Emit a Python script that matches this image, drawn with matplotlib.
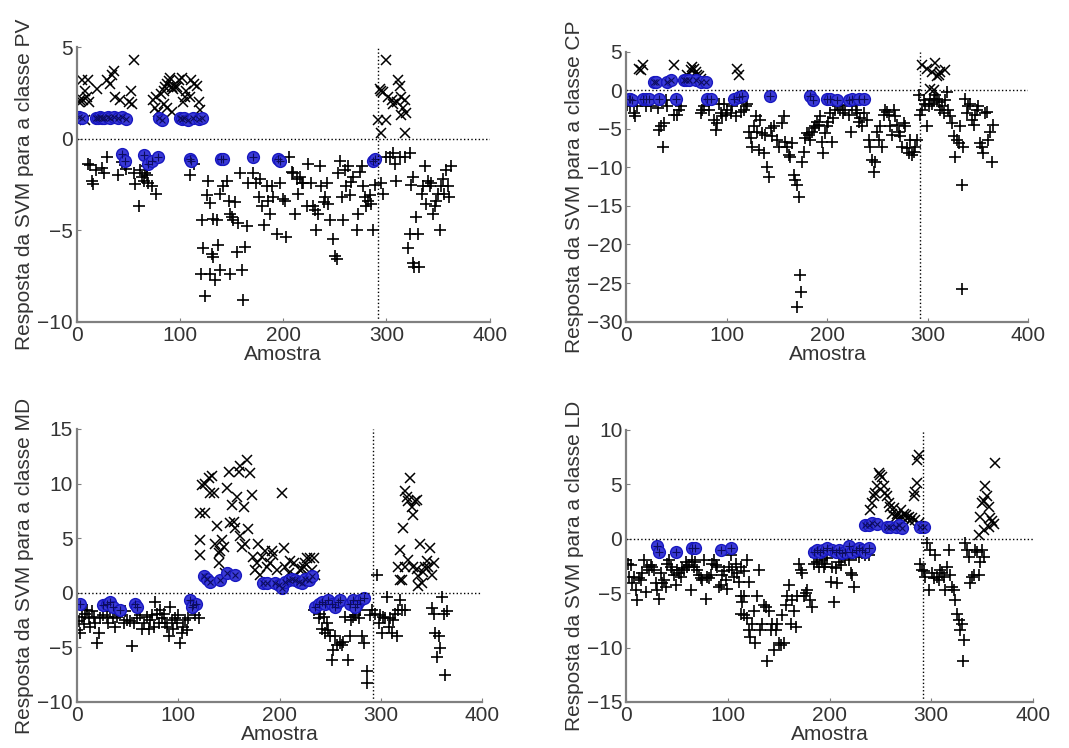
import numpy as np
import matplotlib
matplotlib.use("Agg")
import matplotlib.pyplot as plt

plt.rcParams['font.family'] = ['Liberation Sans', 'DejaVu Sans']

# ---- classe PV ----
pv_cross = [(3,2.1),(6,2.1),(8,2.6),(10,2.3),(11,3.2),(5,3.2),(19,2.7),(29,3.2),(32,3.0),(34,3.5),
            (35.5,3.7),(37,2.3),(42,2.1),(50,2.0),(52,2.6),(55,4.3),(53,1.9),(2,2.0),(12,2.0),(8,1.0),
            (74,2.1),(77,2.3),(81,2.45),(84,2.6),(85.5,2.8),(87,3.0),(89,3.15),(90,3.3),(92,2.8),(93.5,2.7),
            (95,2.8),(97,2.8),(99,3.2),(101.6,3.3),(102.6,2.0),(105,2.3),(106,2.6),(110,2.3),(111,3.2),(113,3.0),
            (116,2.85),(118,2.0),(119,1.55),(76,1.7),(79,1.45),(84,1.9),(87,1.7),(92,1.45),
            (293.5,2.7),(295,2.6),(297,2.55),(300,4.3),(301.6,2.3),(305,2.1),(306,1.9),(310,2.0),(311,3.2),(313,2.9),
            (314.5,2.3),(316,1.7),(318,2.1),(319,1.4),(292,1.0),(295,0.3),(300,1.0),(318,0.3),(314.5,1.3)]
pv_plus = [(11,-1.4),(13,-1.45),(14.5,-2.3),(16,-2.5),(18,-1.7),(24,-1.6),(26,-1.9),(29,-1.0),(40,-2.0),(43.5,-1.3),
           (47,-1.45),(48,-1.65),(55,-1.9),(56.5,-2.5),(60,-3.7),(61,-1.7),(63,-2.1),(64.5,-2.3),(66,-1.9),(68,-2.0),
           (69,-2.45),(72.6,-2.6),(77,-3.0),(68,-1.5),(110,-2.0),(113,-1.4),(121,-4.45),(122.6,-6.0),(124,-8.6),(126,-3.1),
           (127,-2.3),(129,-3.5),(130.6,-6.3),(132,-6.45),(134,-7.7),(135.5,-4.45),(137,-5.8),(138.7,-3.0),(142,-2.6),(145,-2.3),
           (147,-3.4),(148,-4.1),(150,-4.3),(151.6,-4.45),(153,-3.45),(155,-6.2),(156,-4.6),(158,-1.9),(160,-7.2),(161,-8.8),
           (163,-5.9),(164.5,-4.8),(166,-2.45),(148,-7.4),(139,-7.2),(129,-7.4),(120,-7.4),(132,-4.4),
           (171,-1.9),(174,-2.45),(176,-3.2),(177,-2.2),(179,-3.7),(181,-4.7),(184,-2.6),(185.5,-3.4),(187,-4.1),(189,-2.6),
           (190,-3.2),(193.5,-5.2),(197,-2.45),(200,-3.3),(201.6,-3.4),(203,-5.4),(206,-1.0),(208,-1.8),(209.7,-1.9),(211,-4.1),
           (213,-2.2),(214.5,-3.0),(216,-2.1),(218,-2.4),(219,-2.45),(222.6,-3.7),(224,-1.4),(227,-2.4),(229,-3.7),(230.6,-3.9),
           (232,-5.0),(234,-4.1),(235.5,-1.5),(237,-2.6),(239,-3.45),(240,-3.2),(242,-2.45),(243.5,-3.55),(245,-4.45),(248,-5.5),
           (250,-6.4),(251.6,-6.6),(253,-1.9),(255,-1.2),(256.5,-3.2),(258,-4.45),(259.7,-1.7),(261,-2.6),(263,-1.5),(264.5,-3.1),
           (266,-2.35),(267.7,-2.1),(271,-5.0),(272.6,-4.1),(274,-1.8),(276,-1.5),(277,-2.6),(279,-3.2),(280.6,-3.7),(282,-3.4),
           (284,-3.1),(285.5,-3.55),(287,-5.0),(289,-2.55),
           (295,-2.4),(297,-3.0),(300,-1.0),(303,-1.0),(306,-0.8),(308,-1.4),(309.7,-2.3),(313,-1.0),(318,-1.0),(322.6,-0.8),
           (324,-2.55),(325.8,-2.1),(321,-6.0),(322.6,-5.2),(325.8,-6.8),(327,-7.0),(329,-4.3),(330.6,-5.2),(332,-7.0),(334,-3.0),
           (335.5,-2.6),(337,-1.5),(338.7,-3.55),(340,-2.3),(342,-2.6),(343.5,-2.45),(345,-4.1),(346.8,-3.7),(348,-3.4),(350,-3.0),
           (351.6,-5.0),(353,-2.6),(354.8,-2.2),(356,-3.0),(357.7,-1.7),(359.7,-2.6),(361,-3.2),(363,-1.5)]
pv_sv = [(2,1.2),(5,1.1),(18,1.15),(20,1.1),(22,1.2),(24,1.1),(26,1.15),(30,1.2),(32,1.1),(36,1.2),
         (40,1.15),(44,1.2),(48,1.05),(80,1.1),(82,1.0),(100,1.15),(102,1.05),(104,1.1),(108,1.0),(112,1.1),
         (118,1.05),(121,1.1),
         (43.5,-0.85),(47,-1.2),(64.5,-0.9),(69,-1.36),(72.6,-1.2),(79,-1.0),(110,-1.1),(111,-1.2),(140,-1.1),(142,-1.1),
         (171,-1.0),(195,-1.1),(197,-1.2),(287,-1.2),(289,-1.1)]

# ---- classe CP ----
cp_cross = [(12.6,2.8),(14,2.6),(16,3.3),(47,3.3),(60.6,2.0),(64,2.6),(65.6,3.0),(67,2.8),(69,2.4),(70.5,2.0),
            (72,1.8),(74,1.5),(110,2.8),(112,2.0),(294,3.3),(299,2.8),(304,2.4),(307,3.5),(309,1.8),(310.6,2.0),
            (312,2.4),(317,2.6),(302,0.2),(305.6,0.0)]
cp_plus = [(1,-1.9),(4,-2.1),(7.6,-3.0),(9,-3.4),(11,-2.1),(19,-2.1),(24,-2.1),(31,-2.3),(32.5,-5.1),(34,-4.7),
           (36,-7.3),(37.4,-4.3),(39,-1.3),(40.7,-2.1),(47,-3.2),(50.6,-3.2),(52,-2.6),(54,-2.1),(74,-3.0),(75.5,-2.6),
           (77,-2.1),(82,-2.6),(87,-3.9),(89,-5.1),(90,-4.3),(92,-1.8),(94,-3.0),(95,-3.4),(97,-1.8),(98.7,-3.2),
           (100,-2.6),(103.6,-3.0),(105,-2.1),(108.6,-3.4),(113.6,-2.8),(117,-2.6),(118.5,-2.1),(120,-1.8),(122,-5.4),(123.5,-6.2),
           (125,-7.3),(126.8,-4.7),(128.5,-3.4),(130,-5.4),(131.8,-7.7),(133.4,-3.9),(135,-5.6),(136.8,-8.2),(138,-5.8),(140,-9.9),
           (141.7,-11.2),(143.4,-4.9),(145,-6.0),(146.7,-4.7),(150,-6.5),(151.7,-7.3),(155,-4.3),(156.6,-3.4),(158,-6.7),(160,-7.3),
           (161.6,-8.4),(163,-8.6),(165,-6.9),(166.6,-11.0),(168,-11.6),(170,-12.3),(171.5,-13.8),(173,-23.9),(174,-26.1),(170,-28.1),
           (175,-9.3),(176.5,-8.0),(178,-6.2),(180,-5.6),(181.5,-5.8),(183,-6.5),(185,-5.4),(186.5,-4.9),(188,-4.7),(190,-4.1),
           (191.4,-4.5),(193,-3.4),(194.7,-6.7),(196,-8.2),(198,-5.6),(200,-4.7),(201,-4.1),(203,-3.0),(204.6,-6.7),(206,-3.6),
           (208,-2.6),(209.6,-1.8),(211,-2.1),(213,-2.6),(214.5,-1.9),(216,-3.0),(218,-2.6),(221,-3.2),(223,-5.4),(224.5,-2.1),
           (228,-2.6),(229.5,-3.0),(231,-4.1),(232.8,-3.6),(234,-4.7),(236,-3.0),(239,-3.9),(241,-6.5),(242.7,-7.3),(244,-9.0),
           (246,-10.6),(247.7,-9.3),(249,-5.4),(251,-6.5),(252.6,-4.7),(254,-7.3),(256,-3.2),(257.6,-2.6),(259,-2.8),(261,-3.2),
           (262.6,-4.7),(264,-5.8),(266,-2.6),(267.5,-3.4),(269,-4.5),(271,-5.4),(272.5,-6.0),(274,-7.3),(276,-4.3),(277.5,-4.7),
           (279,-7.5),(281,-8.2),(282.5,-6.5),(284,-8.4),(285.8,-8.0),(287.4,-7.3),(289,-6.5),
           (290.7,-0.6),(292.4,-3.2),(294,-2.6),(295.7,-1.3),(297.3,-1.8),(299,-4.7),(300.7,-2.1),(302,-1.1),(304,-1.8),(305.6,-1.3),
           (307,-0.6),(309,-1.1),(310.6,-1.5),(312,-2.6),(314,-2.1),(315.6,-3.0),(317,-1.3),(319,-0.2),(320.5,-2.6),(322,-3.4),
           (324,-4.3),(325.5,-6.0),(327,-8.6),(328.8,-6.5),(330.5,-6.9),(332,-4.7),(333.8,-12.3),(334.4,-25.8),(335.4,-7.3),(337,-1.1),
           (338.7,-3.0),(340.4,-2.1),(342,-1.8),(343.7,-3.9),(345.4,-4.5),(347,-3.2),(348.7,-2.6),(350,-2.1),(352,-6.9),(353.6,-7.3),
           (355,-8.2),(357,-3.0),(358.6,-2.8),(360,-6.5),(362,-5.4),(363.6,-9.3),(365,-4.5)]
cp_sv = [(27.5,1.1),(29,1.1),(40.7,1.1),(44,1.3),(57,1.3),(59,1.3),(62,1.3),(69,1.3),(74,1.1),(79,1.1),
         (2.6,-1.1),(4,-1.1),(6,-1.3),(16,-1.2),(19,-1.1),(22.5,-1.1),(32.5,-1.1),(49,-1.2),(80.5,-1.1),(84,-1.1),
         (107,-1.2),(112,-0.9),(115,-0.7),(143,-0.7),(183,-0.7),(186,-1.3),(200,-1.1),(203,-1.1),(210,-1.3),(221,-1.3),
         (224,-1.1),(231,-1.1),(236,-1.1)]

# ---- classe MD ----
md_cross = [(121.7,7.3),(126.6,7.3),(121.7,4.85),(121.7,3.5),(123,9.9),(126.6,10.0),(130,10.5),(133,10.7),(131.6,9.1),(134.9,9.1),
            (136.5,4.5),(138,6.1),(139.8,3.6),(139.8,2.7),(141,3.8),(142.8,4.8),(144.7,4.2),(146,1.8),(148,9.6),(149.7,11.1),
            (151,6.4),(153,8.0),(154.6,6.5),(156,5.9),(157.9,8.8),(159.5,11.1),(161,11.6),(161,5.2),(162.8,4.2),(164.5,7.9),
            (166,4.5),(167.8,12.2),(169,5.8),(171,11.0),(172.7,9.0),(174,3.3),(176,2.1),(177.6,2.7),(179,4.5),(181,1.6),
            (183,3.3),(185.9,3.8),(187.5,2.4),(190.8,2.7),(192.4,3.8),(194,3.5),(197,2.1),(202,9.1),(204,4.1),(205.6,2.4),
            (209,1.8),(210.5,2.9),(214,2.7),(215.5,1.5),(220,2.1),(222,2.2),(223.7,2.4),(225,2.7),(227,3.2),(228.6,1.5),
            (230,3.2),(232,2.1),(233.6,3.2),(235,1.6),
            (319,1.2),(320.7,1.2),(322,5.9),(324,9.3),(325.6,8.8),(327.3,8.4),(329,10.5),(330.6,7.9),(332,7.1),(334,8.4),
            (335.5,8.5),(317.4,2.4),(319,3.9),(324,2.4),(327.3,3.0),(332,2.4),(335.5,2.2),(337,1.5),(338.8,4.5),(340.5,0.9),
            (342,1.9),(343.8,2.4),(345.4,2.9),(347,2.4),(348.7,4.1),(350.3,1.6),(352,2.7),(337,0.6)]
md_plus = [(0,-3.4),(1.6,-2.6),(3.3,-3.7),(5,-2.2),(6.6,-2.9),(8,-1.9),(9.9,-1.6),(11.5,-2.3),(13,-3.1),(14.8,-1.7),
           (16.4,-2.2),(18,-2.8),(19.7,-4.6),(21.4,-3.7),(23,-2.3),(26,-2.0),(29.6,-2.2),(31,-2.8),(33,-1.7),(36,-2.3),
           (37.8,-3.1),(39.5,-2.2),(42.8,-2.0),(46,-2.8),(47.7,-1.7),(49,-2.5),(52.6,-2.6),(54,-4.9),(56,-2.8),(59,-2.3),
           (62.5,-2.0),(64,-3.3),(65.8,-2.8),(69,-2.2),(70.7,-3.3),(72,-2.5),(74,-2.0),(75.7,-3.1),(77,-0.8),(79,-1.9),
           (80.6,-2.8),(82,-1.6),(83.9,-2.3),(85.5,-1.9),(87,-2.8),(88.8,-3.1),(90.5,-4.0),(92,-1.3),(93.7,-2.5),(95,-3.3),
           (97,-2.3),(98.7,-2.8),(100,-2.0),(102,-4.6),(103.6,-3.7),(105,-3.1),(107,-2.5),(108.5,-3.4),(110,-2.3),(116.8,-2.0),
           (120,-2.3),
           (233.6,-1.6),(238.5,-2.3),(240,-1.9),(241.8,-3.3),(243.4,-2.2),(245,-3.7),(246.7,-2.8),(248,-3.4),(250,-4.0),(251.6,-6.2),
           (253,-5.2),(255,-4.0),(256.6,-4.8),(260,-4.6),(261.5,-4.8),(263,-4.5),(264.8,-2.2),(268,-6.2),(269.7,-4.0),(271,-2.5),
           (273,-2.2),(274.7,-2.0),(278,-2.3),(279.6,-1.6),(281,-4.0),(283,-4.6),(286,-7.2),(286.8,-8.3),(289.5,-2.0),(291,-1.6),
           (294,-1.9),(296,1.6),(297.7,-2.8),(299,-2.0),(300.9,-3.7),(302.6,-2.2),(304,-2.3),(306,-0.4),(307.6,-3.1),(309,-2.3),
           (310.8,-3.7),(312.5,-2.5),(314,-1.9),(315.8,-4.0),(317.4,-1.6),(319,-0.7),(320.7,-1.6),(324,-1.6),
           (350.3,-1.4),(352,-1.9),(353.6,-3.7),(355,-5.9),(357,-4.0),(358.6,-5.1),(360,-0.4),(362,-1.9),(363.5,-7.5),(365,-1.7)]
md_sv = [(3.3,-1.0),(26,-1.1),(29.6,-1.0),(33,-0.8),(36,-1.3),(42.8,-1.6),(57.6,-1.0),(59,-1.3),(112,-0.7),(115,-1.1),
         (118,-1.0),(113.5,-1.3),
         (125,1.5),(128,1.3),(131.6,1.0),(141,1.2),(148,1.8),(156,1.6),(184,0.9),(187.5,0.9),(195.7,0.9),(199,0.7),
         (202,0.4),(205.6,1.0),(209,1.2),(212,1.3),(215.5,1.2),(218.8,1.0),(222,0.9),(225,1.3),(228.6,1.2),(232,1.5),
         (235,-1.3),(238.5,-1.0),(241.8,-0.8),(245,-1.0),(248,-0.7),(251.6,-1.0),(255,-1.3),(258,-0.8),(260,-0.7),(269.7,-1.0),
         (273,-0.7),(276,-1.0),(279.6,-0.7),(283,-0.5),(274.7,-1.3)]

# ---- classe LD ----
ld_cross = [(240,2.6),(242,3.25),(243.6,3.9),(245.2,4.2),(247,4.8),(248.5,6.0),(250,5.85),(251.8,5.7),(253.4,4.8),(255,4.2),
            (256.7,3.9),(258.4,3.25),(260,2.9),(261.6,2.3),(263.3,2.8),(265,2.0),(266.6,2.3),(268,1.9),(270,2.6),(271.5,2.0),
            (273,2.3),(274.8,2.2),(276.4,1.9),(278,2.0),(279.7,1.6),(281.3,1.9),(283,3.9),(284.6,4.3),(286,5.1),(286,7.2),
            (287.9,7.7),(284.6,1.7),(287.9,1.4),
            (346.9,0.3),(348.5,2.0),(350,3.25),(351.8,3.5),(353.4,4.8),(355,3.9),(356.7,2.9),(358.4,1.9),(360,1.6),(361.6,1.3),
            (363,6.9),(356.7,1.1),(351.8,0.8)]
ld_plus = [(0,-2.0),(1.6,-2.3),(2.6,-3.5),(4.3,-2.4),(5.9,-4.1),(7.5,-3.5),(9,-4.7),(10.8,-5.6),(12.5,-3.65),(14,-3.8),
           (15.7,-3.2),(17.4,-2.0),(19,-4.9),(20.7,-2.6),(22.3,-2.9),(24,-2.4),(25.6,-2.6),(27.2,-2.9),(28.9,-4.1),(30.5,-4.7),
           (32,-5.5),(33.8,-3.2),(35.4,-4.1),(37,-3.8),(38.7,-4.4),(40.3,-2.3),(42,-2.0),(43.6,-2.6),(45.2,-2.9),(46.9,-3.35),
           (48.5,-4.3),(50.2,-2.9),(51.8,-3.2),(53.4,-3.5),(55,-2.7),(56.7,-2.9),(58.4,-2.15),(60,-2.6),(61.6,-2.4),(63.3,-4.7),
           (64.9,-2.0),(66.6,-2.6),(68,-2.15),(69.8,-2.9),(71.5,-3.35),(73,-3.65),(74.8,-3.8),(76.4,-2.0),(78,-5.5),(79.7,-3.5),
           (81.3,-3.65),(83,-3.35),(84.6,-2.3),(86.2,-2.0),(87.9,-2.4),(89.5,-2.6),(91,-4.4),(92.8,-4.3),(94.4,-3.35),(96,-3.0),
           (97.7,-3.8),(99.3,-4.6),(101,-2.6),(102.6,-1.5),(104,-2.9),(105.9,-3.5),(107.5,-2.3),(109,-3.2),(110.8,-3.95),(112.5,-2.6),
           (115.7,-3.0),(119,-2.0),(120.6,-3.95),(112.5,-5.3),(114,-5.8),(115.7,-5.3),
           (112.5,-6.9),(115.7,-7.0),(119,-7.3),(120.6,-8.4),(122,-9.0),(124,-7.8),(125.6,-6.6),(127,-9.6),(128.9,-5.3),(130.5,-2.9),
           (132,-8.4),(133.8,-7.8),(135.4,-6.1),(137,-6.3),(138.7,-11.2),(140.3,-6.6),(142,-8.4),(143.6,-7.8),(145.2,-10.2),(146.9,-8.4),
           (148.5,-7.8),(150,-9.6),(151.8,-9.8),(153.4,-7.0),(155,-9.6),(156.7,-6.1),(158.4,-5.3),(160,-4.3),(161.6,-7.8),(163.3,-5.6),
           (165,-6.6),(166.6,-8.1),(168,-5.3),(169.8,-2.3),(171.5,-2.9),(173,-3.2),(174.7,-5.3),(176.4,-5.0),(178,-4.7),(181,-5.6),
           (183,-6.3),(184.6,-2.3),(186.2,-1.7),(187.9,-2.1),(189.5,-2.6),(191,-1.5),(192.8,-2.0),(194.4,-2.6),(196,-2.3),(197.7,-1.8),
           (201,-3.95),(202.6,-2.6),(204.3,-5.8),(206,-2.7),(207.5,-4.1),(209,-2.15),(210.8,-2.4),(212.5,-1.7),(214,-1.35),(215.7,-1.8),
           (219,-2.0),(220.7,-3.2),(222,-3.35),(224,-4.4),(225.6,-1.5),(228.9,-1.7),(232,-1.35),(235.4,-1.5),(238.7,-1.5),
           (289.5,-2.3),(291,-2.9),(292.8,-3.0),(294.4,-3.5),(296,-0.4),(297.7,-4.7),(299,-1.0),(301,-3.2),(302.6,-3.65),(304,-1.5),
           (306,-3.5),(307.5,-3.8),(309,-2.9),(310.8,-3.2),(312.5,-3.5),(314,-4.7),(315.7,-2.6),(317.4,-1.0),(319,-3.35),(320.6,-4.4),
           (322.3,-4.7),(324,-5.6),(325.6,-6.9),(327,-7.5),(328.9,-8.4),(330.5,-7.8),(332,-9.3),(331,-11.2),(333.8,-0.4),(335.4,-1.0),
           (337,-1.7),(338.7,-4.1),(340.3,-3.5),(342,-3.35),(343.6,-1.0),(345.2,-1.2),(346.9,-3.35),(348.5,-2.1),(350,-1.0),(351.8,-1.7)]
ld_sv = [(30.5,-0.7),(32,-1.2),(48.5,-1.2),(65,-0.9),(68,-0.9),(93,-1.0),(102.6,-0.9),(184.6,-1.2),(188,-1.0),(191,-1.2),
         (194,-1.0),(197.7,-0.9),(202.6,-1.0),(206,-1.2),(209,-1.0),(212.5,-1.35),(215.7,-1.2),(219,-0.7),(222,-1.2),(225.6,-1.0),
         (228.9,-0.9),(232,-1.0),(235.4,-1.2),(238.7,-0.9),
         (235.4,1.25),(238.7,1.25),(242,1.4),(247,1.35),(256.7,1.1),(260,1.1),(265,1.1),(268,1.25),(271.5,0.95),(289.5,1.1),
         (292.8,1.1)]

panels = [
    ('PV', pv_plus, pv_cross, pv_sv, (-10, 5), [-10, -5, 0, 5], [0.072, 0.570, 0.386, 0.367]),
    ('CP', cp_plus, cp_cross, cp_sv, (-30, 5), [-30, -25, -20, -15, -10, -5, 0, 5], [0.586, 0.570, 0.376, 0.361]),
    ('MD', md_plus, md_cross, md_sv, (-10, 15), [-10, -5, 0, 5, 10, 15], [0.072, 0.0615, 0.379, 0.365]),
    ('LD', ld_plus, ld_cross, ld_sv, (-15, 10), [-15, -10, -5, 0, 5, 10], [0.586, 0.0615, 0.380, 0.364]),
]
split_x = 292
xticks = [0, 100, 200, 300, 400]

fig = plt.figure(figsize=(10.69, 7.48), dpi=100)

for name, plus, cross, sv, ylim, yticks, pos in panels:
    ax = fig.add_axes(pos)
    p = np.array(plus)
    c = np.array(cross)
    s = np.array(sv)
    ax.plot(p[:, 0], p[:, 1], '+', color='black', ms=8.5, mew=1.2)
    ax.plot(c[:, 0], c[:, 1], 'x', color='black', ms=6.5, mew=1.1)
    ax.plot(s[:, 0], s[:, 1], 'o', mfc='#3a3ad6', mec='#1818c0', ms=8.5, mew=1.0)
    pos_sv = s[s[:, 1] > 0]
    neg_sv = s[s[:, 1] < 0]
    ax.plot(pos_sv[:, 0], pos_sv[:, 1], 'x', color='#0c0c60', ms=5, mew=0.8)
    ax.plot(neg_sv[:, 0], neg_sv[:, 1], '+', color='#0c0c60', ms=6, mew=0.8)
    ax.axhline(0, color='black', ls=':', lw=1)
    ax.axvline(split_x, color='black', ls=':', lw=1)
    ax.set_xlim(0, 400)
    ax.set_ylim(*ylim)
    ax.set_xticks(xticks)
    ax.set_yticks(yticks)
    for side in ['top', 'right']:
        ax.spines[side].set_visible(False)
    for side in ['left', 'bottom']:
        ax.spines[side].set_color('#808080')
        ax.spines[side].set_linewidth(1.6)
    ax.tick_params(direction='in', length=3, color='#808080', labelsize=15,
                   labelcolor='#333333', pad=3)
    ax.set_xlabel('Amostra', fontsize=15, color='#333333', labelpad=0)
    ax.set_ylabel('Resposta da SVM para a classe ' + name, fontsize=15,
                  color='#333333', labelpad=2)

fig.savefig('out.png', dpi=100)
